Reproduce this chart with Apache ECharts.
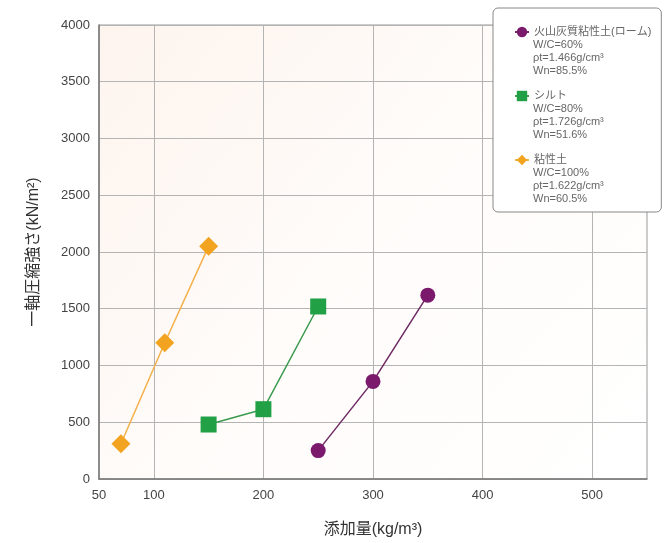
<!DOCTYPE html>
<html>
<head>
<meta charset="utf-8">
<script src="https://cdn.jsdelivr.net/npm/echarts@6.0.0/dist/echarts.min.js"></script>
<style>
html, body { margin: 0; padding: 0; background: #fff; }
#main { width: 669px; height: 543px; }
</style>
</head>
<body>
<div id="main"></div>
<script>
// soil types (legend order)
var soilNames = ['火山灰質粘性土(ローム)', 'シルト', '粘性土'];
var soilParams = [
    ['W/C=60%', 'ρt=1.466g/cm³', 'Wn=85.5%'],
    ['W/C=80%', 'ρt=1.726g/cm³', 'Wn=51.6%'],
    ['W/C=100%', 'ρt=1.622g/cm³', 'Wn=60.5%']
];

// 添加量 (kg/m3) and 一軸圧縮強さ (kN/m2)
var loamX = [250, 300, 350];
var loamY = [250, 860, 1620];
var siltX = [150, 200, 250];
var siltY = [480, 615, 1520];
var clayX = [70, 110, 150];
var clayY = [310, 1200, 2050];

var xTicks = [50, 100, 200, 300, 400, 500];

var font = "'Liberation Sans', 'Noto Sans CJK JP', sans-serif";

function pairs(xs, ys) {
    return xs.map(function (x, i) { return [x, ys[i]]; });
}

// legend geometry, params text is laid under each legend name
var legendLeft = 493, legendTop = 8;
var legendPad = [17.5, 10, 45.5, 21];
var itemH = 13, itemGap = 51, lineH = 13;

var paramTexts = soilParams.map(function (p, k) {
    var nameCenter = legendTop + legendPad[0] + itemH / 2 + k * (itemH + itemGap);
    return {
        type: 'text',
        left: legendLeft + legendPad[3] + 14 + 5,
        top: nameCenter + lineH / 2,
        z: 100,
        style: {
            text: p.join('\n'),
            fontSize: 11,
            lineHeight: lineH,
            fontFamily: font,
            fill: '#666'
        }
    };
});

var chart = echarts.init(document.getElementById('main'));

var option = {
    animation: false,
    textStyle: { fontFamily: font },
    grid: {
        left: 99,
        right: 22,
        top: 25,
        bottom: 61,
        show: true,
        borderColor: '#999',
        borderWidth: 1,
        backgroundColor: new echarts.graphic.LinearGradient(0, 0, 1, 1, [
            { offset: 0, color: '#fdf4ee' },
            { offset: 0.5, color: '#fffcfa' },
            { offset: 1, color: '#ffffff' }
        ])
    },
    legend: {
        orient: 'vertical',
        left: legendLeft,
        top: legendTop,
        padding: legendPad,
        itemWidth: 14,
        itemHeight: itemH,
        itemGap: itemGap,
        backgroundColor: '#fff',
        borderColor: '#888',
        borderWidth: 1,
        borderRadius: 5,
        textStyle: { fontSize: 11, lineHeight: lineH, color: '#666', fontFamily: font },
        data: soilNames
    },
    graphic: paramTexts,
    xAxis: {
        type: 'value',
        min: 50,
        max: 550,
        interval: 50,
        name: '添加量(kg/m³)',
        nameLocation: 'middle',
        nameGap: 43,
        nameTextStyle: { fontSize: 16, color: '#333' },
        axisLine: { show: true, onZero: false, lineStyle: { color: '#777', width: 1.5 } },
        axisTick: { show: false },
        axisLabel: {
            fontSize: 13,
            color: '#444',
            margin: 10,
            formatter: function (v) {
                return xTicks.indexOf(v) >= 0 ? String(v) : '';
            }
        },
        splitLine: {
            show: true,
            lineStyle: { color: ['rgba(0,0,0,0)', '#b4b4b4'], width: 1 }
        }
    },
    yAxis: {
        type: 'value',
        min: 0,
        max: 4000,
        interval: 500,
        name: '一軸圧縮強さ(kN/m²)',
        nameLocation: 'middle',
        nameRotate: 90,
        nameGap: 57,
        nameTextStyle: { fontSize: 16, color: '#333' },
        axisLine: { show: true, lineStyle: { color: '#777', width: 1.5 } },
        axisTick: { show: false },
        axisLabel: {
            fontSize: 13,
            color: '#444',
            margin: 9,
            formatter: function (v) { return String(v); }
        },
        splitLine: { show: true, lineStyle: { color: '#b4b4b4', width: 1 } }
    },
    series: [
        {
            name: soilNames[0],
            type: 'line',
            data: pairs(loamX, loamY),
            symbol: 'circle',
            symbolSize: 15,
            itemStyle: { color: '#7b1a6c' },
            lineStyle: { color: '#6e2a63', width: 1.5 }
        },
        {
            name: soilNames[1],
            type: 'line',
            data: pairs(siltX, siltY),
            symbol: 'rect',
            symbolSize: 16,
            itemStyle: { color: '#21a046' },
            lineStyle: { color: '#3a9a4e', width: 1.5 }
        },
        {
            name: soilNames[2],
            type: 'line',
            data: pairs(clayX, clayY),
            symbol: 'diamond',
            symbolSize: 19,
            itemStyle: { color: '#f2a320' },
            lineStyle: { color: '#f4b04a', width: 1.5 }
        }
    ]
};

chart.setOption(option);
</script>
</body>
</html>
